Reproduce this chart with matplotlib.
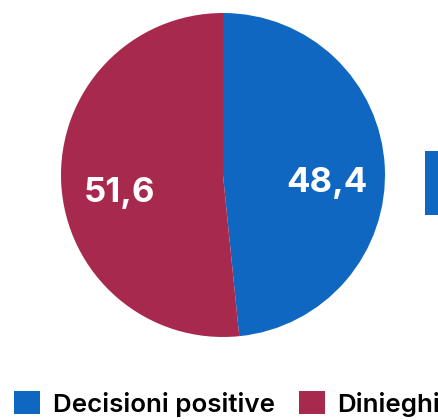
import matplotlib
matplotlib.use("Agg")
import matplotlib.pyplot as plt
from matplotlib.patches import Rectangle

# Data
categories = ["Decisioni positive", "Dinieghi"]
values = [48.4, 51.6]
colors = ["#0F67C1", "#A8294E"]

plt.rcParams["font.family"] = ["Inter", "DejaVu Sans"]

fig = plt.figure(figsize=(4.39, 4.20), dpi=100)
ax = fig.add_axes([61 / 439, 83 / 420, 324 / 439, 324 / 420])

wedges, texts, autotexts = ax.pie(
    values, colors=colors, startangle=90, counterclock=False,
    autopct=lambda p: f"{p:.1f}".replace(".", ","), pctdistance=0.64,
    wedgeprops=dict(linewidth=0),
    textprops=dict(color="white", fontsize=25, fontweight="bold"),
)
for t in autotexts:
    x, y = t.get_position()
    t.set_position((x, y - 0.08))
ax.set_xlim(-1, 1)
ax.set_ylim(-1, 1)
ax.set_aspect("equal")

# cut-off element on the right edge
fig.patches.append(Rectangle((425 / 439, 1 - 215 / 420), 20 / 439, 64 / 420,
                             transform=fig.transFigure, color=colors[0], linewidth=0))

fig.legend(wedges, categories, loc="lower left", bbox_to_anchor=(4 / 439, -7 / 420),
           ncol=2, frameon=False, handlelength=1.0, handleheight=1.0,
           handletextpad=0.47, columnspacing=0.93, borderaxespad=0,
           prop=dict(family=["Inter", "DejaVu Sans"], weight="semibold", size=18.7))

fig.savefig("out.png", dpi=100)
